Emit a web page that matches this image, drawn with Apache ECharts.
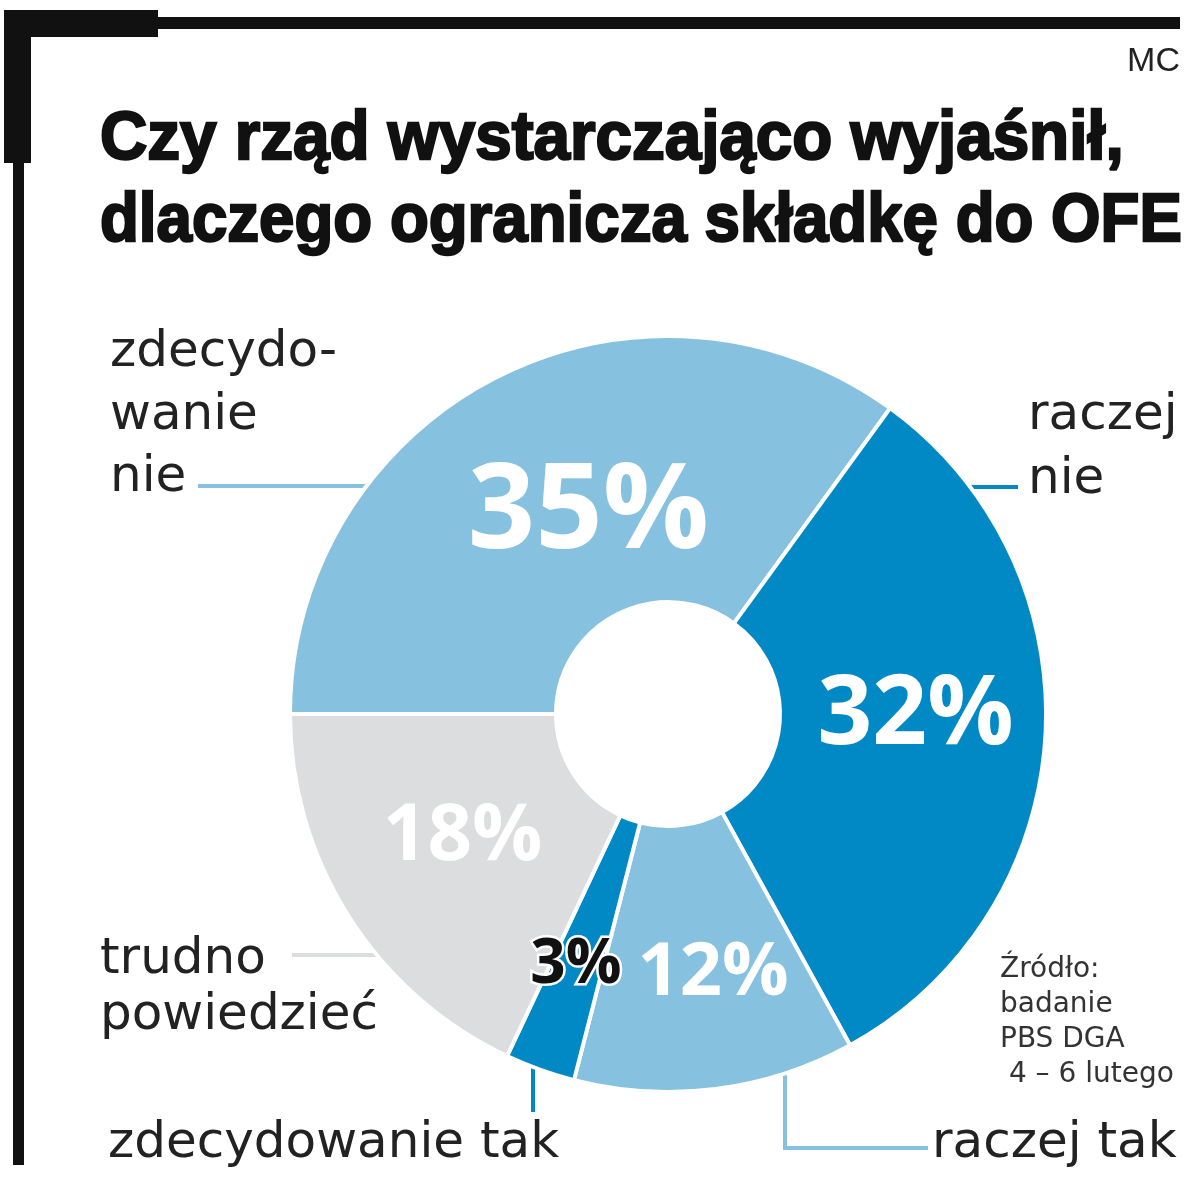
<!DOCTYPE html>
<html>
<head>
<meta charset="utf-8">
<script src="https://cdn.jsdelivr.net/npm/echarts@6/dist/echarts.min.js"></script>
<style>
html,body{margin:0;padding:0;background:#fff;}
#chart{width:1200px;height:1186px;}
</style>
</head>
<body>
<div id="chart"></div>
<script>
// ---- data ----
const categories = ['zdecydowanie nie', 'raczej nie', 'raczej tak', 'zdecydowanie tak', 'trudno powiedzieć'];
const values = [35, 32, 12, 3, 18];
const outerLabels = ['zdecydo-\nwanie\nnie', 'raczej\nnie', 'raczej tak', 'zdecydowanie tak', 'trudno\npowiedzieć'];
const titleLines = ['Czy rząd wystarczająco wyjaśnił,', 'dlaczego ogranicza składkę do OFE'];
const sourceText = 'Źródło:\nbadanie\nPBS DGA\n 4 – 6 lutego';
const authorText = 'MC';

// ---- styles ----
const LIGHT = '#87c1e0', DARK = '#0089c4', GRAY = '#dcdddf';
const sliceColors = [LIGHT, DARK, LIGHT, DARK, GRAY];
const pctStyle = [
  { fontSize: 118, offset: [33, 21], color: '#fff' },
  { fontSize: 96, offset: [0, -13], color: '#fff' },
  { fontSize: 74, offset: [14, 14], color: '#fff' },
  { fontSize: 62, offset: [-8, 18], color: '#111', textBorderColor: '#fff', textBorderWidth: 5 },
  { fontSize: 78, offset: [4, -9], color: '#fff' }
];
const LABEL_FONT = 'DejaVu Sans';
const labelColor = '#222';

const pieData = categories.map((name, i) => ({
  name: name,
  value: values[i],
  itemStyle: { color: sliceColors[i] },
  label: Object.assign({}, pctStyle[i])
}));

const chart = echarts.init(document.getElementById('chart'), null, { renderer: 'canvas' });

function txt(x, y, text, opts) {
  return {
    type: 'text', x: x, y: y, silent: true,
    style: Object.assign({
      text: text, fill: labelColor,
      fontFamily: LABEL_FONT, fontSize: 50,
      align: 'left', verticalAlign: 'middle'
    }, opts || {})
  };
}
function poly(points, color) {
  return { type: 'polyline', silent: true, shape: { points: points }, style: { stroke: color, lineWidth: 4, fill: null } };
}

const titleStyle = { fontFamily: 'Liberation Sans', fontWeight: 'bold', fontSize: 69, fill: '#111', stroke: '#111', lineWidth: 2.4 };

const option = {
  backgroundColor: '#fff',
  animation: false,
  series: [{
    type: 'pie',
    center: [668, 714],
    radius: [112, 378],
    startAngle: 180,
    clockwise: true,
    silent: true,
    itemStyle: { borderColor: '#fff', borderWidth: 4 },
    label: {
      show: true,
      position: 'inside',
      formatter: '{c}%',
      fontFamily: 'Open Sans',
      fontWeight: 'bold',
      color: '#fff'
    },
    labelLine: { show: false },
    data: pieData
  }],
  graphic: [
    // frame
    { type: 'rect', silent: true, shape: { x: 4, y: 17, width: 1176, height: 12 }, style: { fill: '#111' } },
    { type: 'rect', silent: true, shape: { x: 4, y: 10, width: 154, height: 27 }, style: { fill: '#111' } },
    { type: 'rect', silent: true, shape: { x: 4, y: 10, width: 27, height: 153 }, style: { fill: '#111' } },
    { type: 'rect', silent: true, shape: { x: 13, y: 10, width: 11, height: 1155 }, style: { fill: '#111' } },
    // author
    txt(1180, 62, authorText, { align: 'right', fontFamily: 'Liberation Sans', fontSize: 34, fill: '#222' }),
    // title
    Object.assign(txt(100, 140, titleLines[0], titleStyle), { scaleX: 0.95 }),
    Object.assign(txt(100, 222, titleLines[1], titleStyle), { scaleX: 0.922 }),
    // leader lines
    poly([[198, 486], [370, 486]], LIGHT),
    poly([[964, 487], [1018, 487]], DARK),
    poly([[292, 955], [382, 955]], GRAY),
    poly([[533, 1062], [533, 1112]], DARK),
    poly([[785, 1066], [785, 1148], [928, 1148]], LIGHT),
    // outer labels
    txt(110, 416, outerLabels[0], { lineHeight: 62.5 }),
    txt(1028, 448, outerLabels[1], { lineHeight: 64 }),
    txt(932, 1144, outerLabels[2]),
    txt(108, 1144, outerLabels[3]),
    txt(100, 988, outerLabels[4], { lineHeight: 56 }),
    // source
    txt(1000, 1022, sourceText, { fontSize: 28, lineHeight: 35, fill: '#333' })
  ]
};
chart.setOption(option);
</script>
</body>
</html>
